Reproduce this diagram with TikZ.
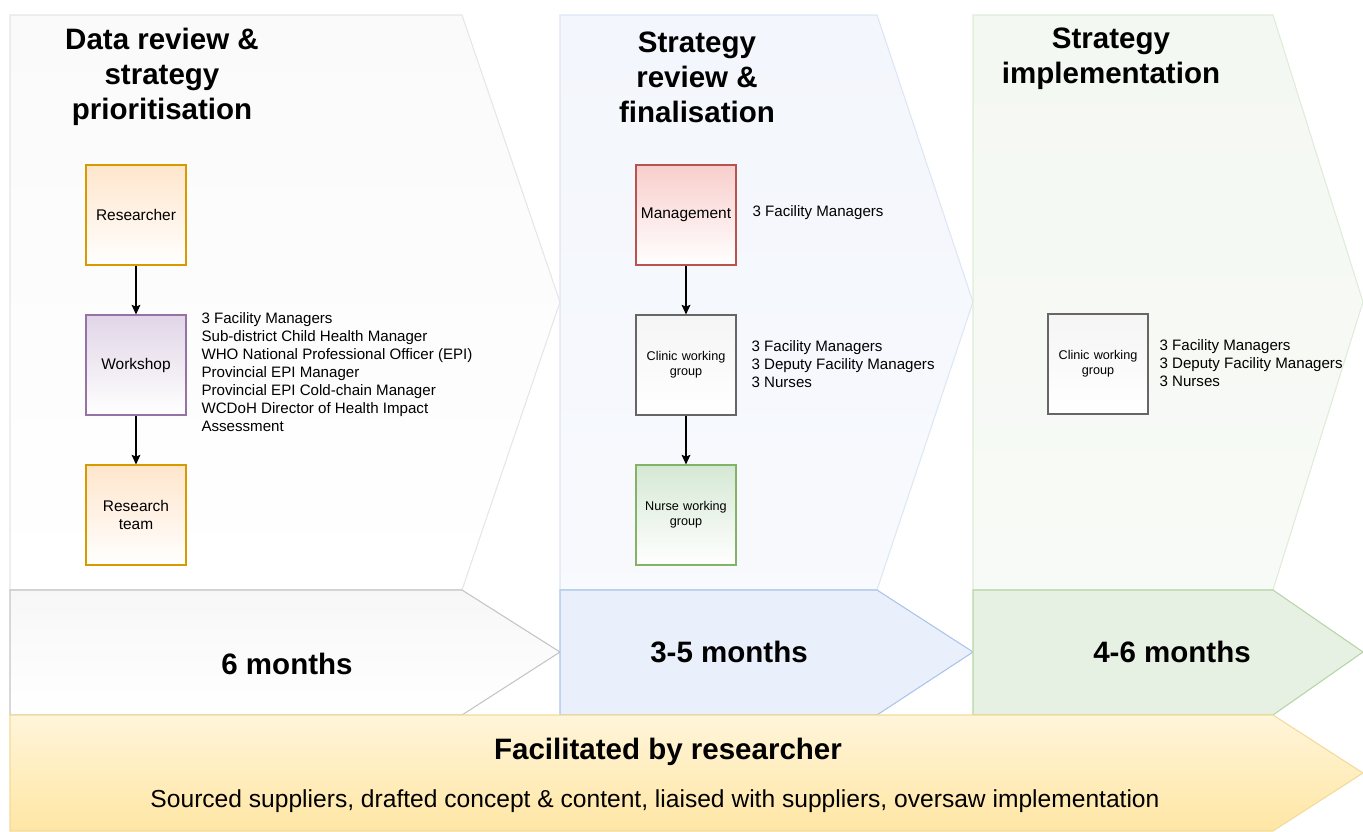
\documentclass[tikz,border=0pt]{standalone}
\usepackage{fontspec}
\setmainfont{Liberation Sans}
\usetikzlibrary{arrows.meta}

\definecolor{orangefill}{HTML}{FFE6CC}
\definecolor{orangeline}{HTML}{D79B00}
\definecolor{purplefill}{HTML}{E1D5E7}
\definecolor{purpleline}{HTML}{9673A6}
\definecolor{redfill}{HTML}{F8CECC}
\definecolor{redline}{HTML}{B85450}
\definecolor{grayfill}{HTML}{F5F5F5}
\definecolor{grayline}{HTML}{666666}
\definecolor{greenfill}{HTML}{D5E8D4}
\definecolor{greenline}{HTML}{82B366}
\definecolor{panelA}{HTML}{FAFAFA}
\definecolor{panelAline}{HTML}{E6E6E6}
\definecolor{panelB}{HTML}{F3F6FC}
\definecolor{panelBline}{HTML}{DCE6F5}
\definecolor{panelC}{HTML}{F4F8F2}
\definecolor{panelCline}{HTML}{DFEDD8}
\definecolor{durA}{HTML}{F7F7F7}
\definecolor{durAline}{HTML}{C4C4C4}
\definecolor{durB}{HTML}{E9F0FB}
\definecolor{durBline}{HTML}{A9C4EB}
\definecolor{durC}{HTML}{E6F0E3}
\definecolor{durCline}{HTML}{B5D6A4}
\definecolor{facilTop}{HTML}{FFF5DA}
\definecolor{facilBot}{HTML}{FFE6A4}
\definecolor{facilline}{HTML}{F2DA9A}

\begin{document}
\begin{tikzpicture}[x=0.02cm,y=-0.02cm,>={Stealth[length=5.5pt,width=5pt,inset=1pt]},semithick,
    box/.style={draw,minimum width=2cm,minimum height=2cm,inner sep=1pt,align=center,text width=1.9cm,bottom color=white,font=\fontsize{8.8}{10.5}\selectfont},
    smallbox/.style={box,font=\fontsize{7.2}{8.6}\selectfont},
    list/.style={anchor=west,align=left,inner sep=0pt,font=\fontsize{8.6}{10.2}\selectfont},
    phase/.style={align=center,inner sep=0pt,font=\fontsize{16.8}{20}\selectfont\bfseries},
    dur/.style={inner sep=0pt,font=\fontsize{16.8}{20}\selectfont\bfseries}]
            \useasboundingbox (0, 0) rectangle (1363, 832);
            % phase panels
            \path[draw=panelAline,top color=panelA,bottom color=white](10, 15) -- (462, 15) -- (560, 302) -- (462, 590) -- (10, 590) -- cycle;
            \path[draw=panelBline,top color=panelB,bottom color=panelB!60!white](560, 15) -- (877, 15) -- (973, 302) -- (877, 590) -- (560, 590) -- cycle;
            \path[draw=panelCline,top color=panelC,bottom color=panelC!70!white](973, 15) -- (1273, 15) -- (1363, 302) -- (1273, 590) -- (973, 590) -- cycle;
            % durations
            \path[draw=durAline,top color=durA,bottom color=white](10, 590) -- (462, 590) -- (560, 652) -- (462, 715) -- (10, 715) -- cycle;
            \path[draw=durBline,fill=durB](560, 590) -- (877, 590) -- (973, 652) -- (877, 715) -- (560, 715) -- cycle;
            \path[draw=durCline,fill=durC](973, 590) -- (1273, 590) -- (1363, 652) -- (1273, 715) -- (973, 715) -- cycle;
            \path[draw=facilline,top color=facilTop,bottom color=facilBot](10, 715) -- (1273, 715) -- (1363, 773) -- (1273, 831) -- (10, 831) -- cycle;

            \node[phase](DataTitle)at(162, 77){Data review \&\\strategy\\prioritisation};
            \node[phase](StratTitle)at(697, 77){Strategy\\review \&\\finalisation};
            \node[phase](ImplTitle)at(1111, 59){Strategy\\implementation};

            \node[box,draw=orangeline,top color=orangefill](Researcher)at(136, 215){Researcher};
            \node[box,draw=purpleline,top color=purplefill](Workshop)at(136, 365){Workshop};
            \node[box,draw=orangeline,top color=orangefill](ResTeam)at(136, 515){Research\\team};
            \node[list](WorkshopList)at(201, 372){3 Facility Managers\\Sub-district Child Health Manager\\WHO National Professional Officer (EPI)\\Provincial EPI Manager\\Provincial EPI Cold-chain Manager\\WCDoH Director of Health Impact\\Assessment};

            \node[box,draw=redline,top color=redfill](Mgmt)at(686, 215){Management};
            \node[smallbox,draw=grayline,top color=grayfill](Clinic)at(686, 365){Clinic working\\group};
            \node[smallbox,draw=greenline,top color=greenfill](Nurse)at(686, 515){Nurse working\\group};
            \node[list](MgmtList)at(752, 213){3 Facility Managers};
            \node[list](ClinicList)at(751, 364){3 Facility Managers\\3 Deputy Facility Managers\\3 Nurses};

            \node[smallbox,draw=grayline,top color=grayfill](ClinicImpl)at(1098, 364){Clinic working\\group};
            \node[list](ImplList)at(1159, 363){3 Facility Managers\\3 Deputy Facility Managers\\3 Nurses};

            \node[dur](DurA)at(287, 664){6 months};
            \node[dur](DurB)at(729, 652){3-5 months};
            \node[dur](DurC)at(1172, 652){4-6 months};
            \node[dur](Facil)at(668, 752){Facilitated by researcher};
            \node[inner sep=0pt,font=\fontsize{14}{16}\selectfont](FacilText)at(655, 801){Sourced suppliers, drafted concept \& content, liaised with suppliers, oversaw implementation};

            \path[->](Researcher) edge (Workshop)
            (Workshop) edge (ResTeam)
            (Mgmt) edge (Clinic)
            (Clinic) edge (Nurse);
        \end{tikzpicture}
\end{document}
